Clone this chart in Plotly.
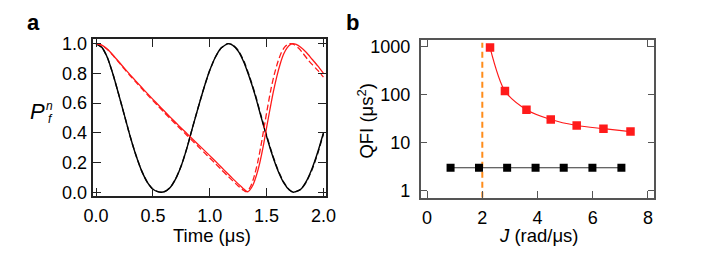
import plotly.graph_objects as go

# ---------------- Panel a data ----------------
t_black = [0.00, 0.05, 0.10, 0.15, 0.20, 0.25, 0.30, 0.35, 0.40, 0.45, 0.50, 0.55, 0.575,
           0.60, 0.65, 0.70, 0.75, 0.80, 0.85, 0.90, 0.95, 1.00, 1.05, 1.10, 1.16, 1.20,
           1.25, 1.30, 1.35, 1.40, 1.45, 1.50, 1.55, 1.60, 1.65, 1.70, 1.736, 1.80, 1.85,
           1.90, 1.95, 2.00]
p_black = [1.000, 0.975, 0.905, 0.790, 0.655, 0.515, 0.375, 0.250, 0.145, 0.068, 0.020, 0.002, 0.000,
           0.003, 0.030, 0.090, 0.180, 0.300, 0.440, 0.575, 0.705, 0.820, 0.910, 0.970, 1.000, 0.990,
           0.950, 0.875, 0.770, 0.650, 0.510, 0.375, 0.250, 0.145, 0.065, 0.015, 0.000, 0.020, 0.075,
           0.160, 0.270, 0.400]
p_black_dash = [1.000, 0.975, 0.905, 0.790, 0.655, 0.515, 0.375, 0.250, 0.145, 0.068, 0.020, 0.002, 0.000,
                0.003, 0.030, 0.090, 0.180, 0.300, 0.440, 0.575, 0.705, 0.820, 0.910, 0.970, 1.000, 0.992,
                0.955, 0.882, 0.778, 0.658, 0.518, 0.382, 0.256, 0.150, 0.068, 0.016, 0.000, 0.018, 0.070,
                0.152, 0.262, 0.392]

t_red = [0.00, 0.05, 0.10, 0.15, 0.20, 0.25, 0.30, 0.35, 0.40, 0.45, 0.50, 0.55, 0.60, 0.65,
         0.70, 0.75, 0.80, 0.85, 0.90, 0.95, 1.00, 1.05, 1.10, 1.15, 1.20, 1.25, 1.28, 1.30,
         1.32, 1.335, 1.35, 1.38, 1.41, 1.44, 1.47, 1.50, 1.53, 1.56, 1.59, 1.62, 1.65, 1.68,
         1.71, 1.73, 1.76, 1.80, 1.85, 1.90, 1.95, 2.00]
p_red = [1.000, 0.990, 0.962, 0.922, 0.878, 0.833, 0.790, 0.748, 0.706, 0.665, 0.625, 0.585, 0.546, 0.507,
         0.469, 0.431, 0.394, 0.357, 0.320, 0.283, 0.246, 0.208, 0.170, 0.131, 0.093, 0.056, 0.035, 0.021,
         0.008, 0.003, 0.012, 0.048, 0.112, 0.198, 0.308, 0.436, 0.560, 0.678, 0.780, 0.865, 0.930, 0.972,
         0.995, 1.000, 0.995, 0.975, 0.940, 0.895, 0.850, 0.800]

t_red_dash = [0.00, 0.05, 0.10, 0.15, 0.20, 0.25, 0.30, 0.35, 0.40, 0.45, 0.50, 0.55, 0.60, 0.65,
              0.70, 0.75, 0.80, 0.85, 0.90, 0.95, 1.00, 1.05, 1.10, 1.15, 1.20, 1.25, 1.28, 1.30,
              1.315, 1.33, 1.36, 1.39, 1.42, 1.45, 1.48, 1.51, 1.54, 1.57, 1.60, 1.63, 1.66, 1.69,
              1.71, 1.74, 1.78, 1.82, 1.86, 1.90, 1.95, 2.00]
p_red_dash = [1.000, 0.989, 0.960, 0.919, 0.874, 0.828, 0.784, 0.741, 0.699, 0.657, 0.616, 0.576, 0.536, 0.497,
              0.458, 0.420, 0.382, 0.344, 0.306, 0.268, 0.230, 0.192, 0.153, 0.115, 0.078, 0.042, 0.022, 0.011,
              0.004, 0.006, 0.040, 0.105, 0.196, 0.312, 0.446, 0.578, 0.700, 0.800, 0.880, 0.940, 0.978, 0.997,
              1.000, 0.994, 0.970, 0.935, 0.895, 0.860, 0.820, 0.775]

a_xticks = [0.0, 0.5, 1.0, 1.5, 2.0]
a_yticks = [0.0, 0.2, 0.4, 0.6, 0.8, 1.0]

# ---------------- Panel b data ----------------
J_red = [2.28, 2.82, 3.60, 4.48, 5.42, 6.39, 7.37]
qfi_red = [950, 118, 48, 30, 22.5, 19.3, 16.8]
J_black = [0.85, 1.88, 2.90, 3.93, 4.95, 5.99, 7.04]
qfi_black = [2.95, 2.95, 2.95, 2.95, 2.95, 2.95, 2.95]
J_crit = [2.0, 2.0]
qfi_crit = [0.7, 1200]
b_xticks = [0, 2, 4, 6, 8]
b_yticks = [1, 10, 100, 1000]
b_yticktext = ["1", "10", "100", "1000"]

FONT = "Liberation Sans, Arial, Helvetica, sans-serif"
W, H = 705, 265

fig = go.Figure()

# Panel a traces
fig.add_trace(go.Scatter(x=t_black, y=p_black_dash, mode="lines",
                         line=dict(color="#222222", width=1.4, dash="6px,3px", shape="spline", smoothing=0.6),
                         xaxis="x", yaxis="y", showlegend=False))
fig.add_trace(go.Scatter(x=t_black, y=p_black, mode="lines",
                         line=dict(color="black", width=1.4, shape="spline", smoothing=0.6),
                         xaxis="x", yaxis="y", showlegend=False))
fig.add_trace(go.Scatter(x=t_red_dash, y=p_red_dash, mode="lines",
                         line=dict(color="#ff1a1a", width=1.3, dash="6px,3px", shape="spline", smoothing=0.7),
                         xaxis="x", yaxis="y", showlegend=False))
fig.add_trace(go.Scatter(x=t_red, y=p_red, mode="lines",
                         line=dict(color="#ff1a1a", width=1.3, shape="spline", smoothing=0.7),
                         xaxis="x", yaxis="y", showlegend=False))

# Panel b traces
fig.add_trace(go.Scatter(x=J_crit, y=qfi_crit, mode="lines",
                         line=dict(color="#ff8c1a", width=2, dash="6px,4px"),
                         xaxis="x2", yaxis="y2", showlegend=False))
fig.add_trace(go.Scatter(x=J_black, y=qfi_black, mode="lines+markers",
                         line=dict(color="#333333", width=1),
                         marker=dict(symbol="square", size=8, color="black"),
                         xaxis="x2", yaxis="y2", showlegend=False))
fig.add_trace(go.Scatter(x=J_red, y=qfi_red, mode="lines+markers",
                         line=dict(color="#ff1a1a", width=1.2, shape="spline", smoothing=0.8),
                         marker=dict(symbol="square", size=8.5, color="#ff1a1a"),
                         xaxis="x2", yaxis="y2", showlegend=False))
# invisible trace to carry the top axis of panel b
fig.add_trace(go.Scatter(x=[0], y=[1], mode="markers", marker=dict(opacity=0),
                         xaxis="x3", yaxis="y2", showlegend=False, hoverinfo="skip"))

tickfont = dict(family=FONT, size=18, color="black")

fig.update_layout(
    width=W, height=H,
    margin=dict(l=0, r=0, t=0, b=0),
    paper_bgcolor="white", plot_bgcolor="white",
    font=dict(family=FONT, color="black"),
    xaxis=dict(domain=[85.7 / W, 325.3 / W], range=[-0.0248, 2.023], anchor="y",
               tickvals=a_xticks, tickformat=".1f", ticks="inside", ticklen=8, tickwidth=1.2,
               tickcolor="#222", showline=True, linecolor="#222", linewidth=1.5, mirror="ticks",
               showgrid=False, zeroline=False, tickfont=tickfont, ticklabelstandoff=3),
    yaxis=dict(domain=[1 - 199.3 / H, 1 - 35.7 / H], range=[-0.0258, 1.0297], anchor="x",
               tickvals=a_yticks, tickformat=".1f", ticks="inside", ticklen=8, tickwidth=1.2,
               tickcolor="#222", showline=True, linecolor="#222", linewidth=1.5, mirror="ticks",
               showgrid=False, zeroline=False, tickfont=tickfont, ticklabelstandoff=1),
    xaxis2=dict(domain=[422.7 / W, 663.3 / W], range=[-0.232, 8.239], anchor="y2",
                tickvals=b_xticks, ticks="inside", ticklen=7, tickwidth=1.2,
                tickcolor="#555", showline=True, linecolor="#555", linewidth=1.5, mirror=True,
                showgrid=False, zeroline=False, tickfont=tickfont, ticklabelstandoff=3),
    xaxis3=dict(domain=[422.7 / W, 663.3 / W], range=[-0.232, 8.239], anchor="y2",
                overlaying="x2", side="top", tickvals=[0, 8], ticks="inside", ticklen=7, tickwidth=1.2,
                tickcolor="#555", showline=False, showticklabels=False, showgrid=False, zeroline=False),
    yaxis2=dict(domain=[1 - 201 / H, 1 - 36 / H], type="log", range=[-0.154, 3.146], anchor="x2",
                tickvals=b_yticks, ticktext=b_yticktext, ticks="inside", ticklen=7, tickwidth=1.2,
                tickcolor="#555", showline=True, linecolor="#555", linewidth=1.5, mirror="ticks",
                showgrid=False, zeroline=False, tickfont=tickfont, ticklabelstandoff=5),
)

def px_ann(text, x, y, size=18, xanchor="center", yanchor="middle", angle=0, bold=False, italic=False):
    if bold:
        text = "<b>" + text + "</b>"
    if italic:
        text = "<i>" + text + "</i>"
    fig.add_annotation(text=text, x=x / W, y=1 - y / H, xref="paper", yref="paper",
                       xanchor=xanchor, yanchor=yanchor, showarrow=False, textangle=angle,
                       font=dict(family=FONT, size=size, color="black"))

px_ann("a", 15, 18, size=22, xanchor="left", bold=True)
px_ann("b", 344, 18, size=22, xanchor="left", bold=True)
px_ann("Time (μs)", 208, 241, size=18.5)
px_ann("<i>J</i> (rad/μs)", 544, 241, size=18.5)
px_ann("QFI (μs<sup>2</sup>)", 366, 121, size=18.5, angle=-90)
px_ann("P", 28.5, 111, size=22, italic=True)
px_ann("n", 41, 105, size=12, italic=True)
px_ann("f", 41.5, 119, size=12, italic=True)

fig.write_html("out.html")
